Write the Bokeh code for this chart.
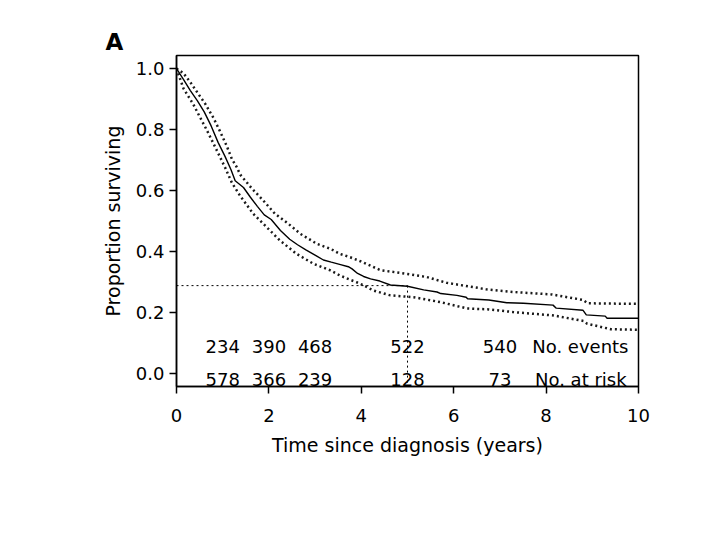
from bokeh.plotting import figure
from bokeh.models import FixedTicker, Range1d, ColumnDataSource
from bokeh.core.properties import value
from bokeh.embed import file_html
from bokeh.resources import INLINE

# Kaplan-Meier estimate
km_time = [0, 0.15, 0.30, 0.45, 0.60, 0.75, 0.90, 1.05, 1.18, 1.27, 1.45, 1.60, 1.75, 1.90,
           2.05, 2.25, 2.45, 2.62, 2.80, 2.98, 3.18, 3.35, 3.55, 3.72, 3.80, 3.92, 4.05, 4.20,
           4.40, 4.63, 5.00, 5.35, 5.64, 5.72, 6.07, 6.27, 6.30, 6.76, 7.15, 7.51, 8.15, 8.22,
           8.80, 8.87, 9.28, 9.32, 10.0]
km_surv = [1.0, 0.965, 0.928, 0.895, 0.858, 0.812, 0.758, 0.712, 0.668, 0.632, 0.610, 0.578,
           0.548, 0.520, 0.505, 0.469, 0.440, 0.422, 0.405, 0.390, 0.372, 0.365, 0.357, 0.350,
           0.343, 0.328, 0.318, 0.310, 0.303, 0.290, 0.286, 0.274, 0.267, 0.262, 0.256, 0.250,
           0.245, 0.241, 0.232, 0.230, 0.224, 0.214, 0.207, 0.192, 0.188, 0.181, 0.181]

# Upper confidence limit
upper_time = [0, 0.15, 0.30, 0.45, 0.62, 0.80, 0.94, 1.09, 1.20, 1.30, 1.38, 1.63, 1.88, 2.13,
              2.42, 2.68, 3.04, 3.33, 3.54, 3.76, 3.98, 4.41, 5.00, 5.42, 5.85, 6.43, 6.70,
              7.30, 8.12, 8.80, 8.90, 10.0]
upper_surv = [1.0, 0.985, 0.955, 0.922, 0.885, 0.838, 0.795, 0.745, 0.703, 0.678, 0.652, 0.607,
              0.567, 0.524, 0.491, 0.458, 0.425, 0.409, 0.392, 0.381, 0.368, 0.339, 0.326,
              0.316, 0.297, 0.283, 0.276, 0.267, 0.259, 0.241, 0.230, 0.228]

# Lower confidence limit
lower_time = [0, 0.15, 0.36, 0.51, 0.65, 0.83, 1.05, 1.20, 1.38, 1.66, 1.95, 2.24, 2.60, 2.96,
              3.33, 3.54, 3.76, 3.90, 4.05, 4.26, 4.63, 5.13, 5.71, 6.29, 6.76, 7.30, 8.16,
              8.81, 8.89, 9.40, 10.0]
lower_surv = [1.0, 0.935, 0.884, 0.840, 0.800, 0.745, 0.676, 0.625, 0.582, 0.524, 0.480, 0.436,
              0.392, 0.360, 0.338, 0.321, 0.307, 0.299, 0.289, 0.272, 0.256, 0.250, 0.234,
              0.213, 0.210, 0.201, 0.190, 0.172, 0.163, 0.145, 0.143]

# Landmark (5-year survival)
landmark_year = 5
landmark_surv = 0.288

# Risk table
table_times = [1, 2, 3, 5, 7]
no_events = ["234", "390", "468", "522", "540"]
no_at_risk = ["578", "366", "239", "128", "73"]
row_labels = ["No. events", "No. at risk"]

x_ticks = [0, 2, 4, 6, 8, 10]
y_ticks = [0.0, 0.2, 0.4, 0.6, 0.8, 1.0]
y_tick_labels = {0.0: "0.0", 0.2: "0.2", 0.4: "0.4", 0.6: "0.6", 0.8: "0.8", 1.0: "1.0"}

FONT = "DejaVu Sans"
Y_MIN, Y_MAX = -0.043, 1.043
ROW1_Y, ROW2_Y = 0.087, -0.020

p = figure(width=712, height=532, output_backend="svg", toolbar_location=None,
           x_range=Range1d(0, 10), y_range=Range1d(Y_MIN, Y_MAX),
           min_border_left=176, min_border_right=74, min_border_top=55, min_border_bottom=146,
           title="A")

p.title.text_font = FONT
p.title.text_font_size = "23px"
p.title.text_font_style = "bold"
p.title.text_color = "black"
p.title.align = "left"
p.title.offset = -71
p.title.standoff = 2

p.background_fill_color = "white"
p.border_fill_color = "white"
p.outline_line_color = "black"
p.outline_line_width = 1.5
p.xgrid.visible = False
p.ygrid.visible = False

for ax in (p.xaxis[0], p.yaxis[0]):
    ax.axis_line_width = 1.5
    ax.axis_line_color = "black"
    ax.major_tick_line_width = 1.5
    ax.major_tick_line_color = "black"
    ax.major_tick_out = 7
    ax.major_tick_in = 0
    ax.minor_tick_out = 0
    ax.minor_tick_in = 0
    ax.major_label_text_font = FONT
    ax.major_label_text_font_size = "18px"
    ax.major_label_text_color = "black"
    ax.axis_label_text_font = FONT
    ax.axis_label_text_font_size = "19px"
    ax.axis_label_text_font_style = "normal"
    ax.axis_label_text_color = "black"

p.xaxis.ticker = FixedTicker(ticks=x_ticks)
p.yaxis.ticker = FixedTicker(ticks=y_ticks)
p.yaxis.major_label_overrides = y_tick_labels
p.xaxis.axis_label = "Time since diagnosis (years)"
p.yaxis.axis_label = "Proportion surviving"
p.xaxis.major_label_standoff = 15
p.yaxis.major_label_standoff = 5
p.xaxis.axis_label_standoff = 9
p.yaxis.axis_label_standoff = 9

# confidence limits
p.line(upper_time, upper_surv, line_color="#1a1a1a", line_width=2.5, line_dash="2 3")
p.line(lower_time, lower_surv, line_color="#1a1a1a", line_width=2.5, line_dash="2 3")
# KM estimate
p.line(km_time, km_surv, line_color="black", line_width=1.4)

# 5-year landmark lines
p.segment(x0=[0, landmark_year], y0=[landmark_surv, landmark_surv],
          x1=[landmark_year, landmark_year], y1=[landmark_surv, Y_MIN],
          line_color="black", line_width=1, line_dash="2 3")

# risk table
ev_src = ColumnDataSource(dict(x=table_times, y=[ROW1_Y] * len(table_times), t=no_events))
rk_src = ColumnDataSource(dict(x=table_times, y=[ROW2_Y] * len(table_times), t=no_at_risk))
for src in (ev_src, rk_src):
    p.text(x="x", y="y", text="t", source=src, text_font=value(FONT), text_font_size="18px",
           text_align="center", text_baseline="alphabetic", text_color="black")
p.text(x=[7.7, 7.76], y=[ROW1_Y, ROW2_Y], text=row_labels, text_font=value(FONT),
       text_font_size="18px", text_align="left", text_baseline="alphabetic", text_color="black")

open("out.html", "w").write(file_html(p, INLINE))
